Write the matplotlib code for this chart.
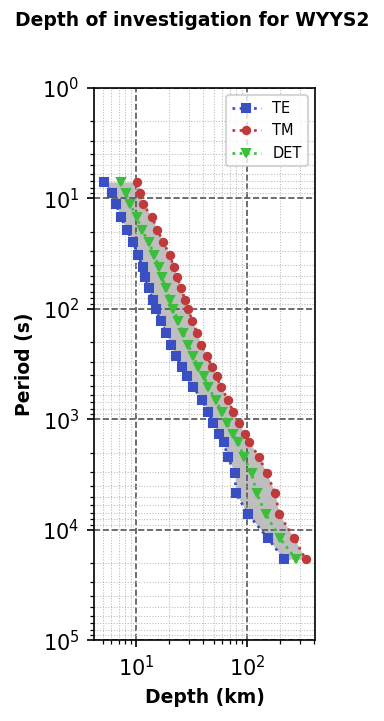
import numpy as np
import matplotlib
matplotlib.use('Agg')
import matplotlib.pyplot as plt

# ─── data ───────────────────────────────────────────────────────────────────
period_s = [7.10, 8.93, 11.25, 14.7, 19.3, 24.8, 32.6, 41.8, 51.5, 64.8,
            83.2, 100.4, 129, 165.6, 212.8, 267.7, 336.7, 406, 511, 670,
            860, 1082, 1361, 1609, 2200, 3071, 4660, 7220, 11920, 18470]

depth_te = [5.15, 6.04, 6.60, 7.28, 8.24, 9.40, 10.36, 11.56, 11.97, 13.09,
            14.13, 15.04, 16.69, 18.63, 20.66, 22.93, 25.8, 28.6, 32.8, 39.6,
            44.8, 49.7, 55.9, 62.0, 67.0, 78.0, 79.6, 102.1, 154.5, 215.4]

depth_tm = [10.27, 10.93, 11.49, 13.94, 15.56, 17.62, 20.12, 21.99, 23.55, 25.43,
            27.80, 29.59, 32.15, 35.66, 38.51, 43.87, 48.39, 53.35, 58.3, 67.9,
            75.3, 84.8, 96.0, 104.9, 129.1, 150.4, 179.8, 195.5, 266.7, 337.8]

depth_det = [7.28, 8.08, 8.83, 10.15, 11.25, 13.09, 14.53, 16.22, 17.26, 18.52,
             20.25, 21.68, 24.05, 26.68, 29.59, 32.82, 36.41, 40.99, 44.8, 52.6,
             59.2, 66.5, 75.3, 83.5, 94.0, 110.2, 122.2, 148.3, 198.2, 276.2]

TE_COLOR = '#3a4fc1'
TM_COLOR = '#c0393b'
DET_COLOR = '#3bbf3b'

fig = plt.figure(figsize=(2.56, 4.807), dpi=150)
ax = fig.add_axes([0.245, 0.112, 0.575, 0.766])

# shaded band between TE and TM
ax.fill_betweenx(period_s, depth_te, depth_tm, color='gray', alpha=0.5,
                 linewidth=0)

ax.plot(depth_te, period_s, ':', color=TE_COLOR, marker='s', markersize=3.5,
        linewidth=1.3, label='TE')
ax.plot(depth_tm, period_s, ':', color=TM_COLOR, marker='o', markersize=3.5,
        linewidth=1.3, label='TM')
ax.plot(depth_det, period_s, ':', color=DET_COLOR, marker='v', markersize=3.5,
        linewidth=1.3, label='DET')

ax.set_xscale('log')
ax.set_yscale('log')
ax.set_xlim(4.19, 410)
ax.set_ylim(1e5, 1)

ax.grid(which='major', color='#555555', linestyle='--', linewidth=0.8)
ax.grid(which='minor', color='#bbbbbb', linestyle=':', linewidth=0.5)
ax.tick_params(labelsize=10)

ax.set_xlabel('Depth (km)', fontsize=9, fontweight='bold')
ax.set_ylabel('Period (s)', fontsize=9, fontweight='bold')
fig.suptitle('Depth of investigation for WYYS2', fontsize=9, fontweight='bold',
             x=0.5, y=0.985)

ax.legend(loc='upper right', fontsize=7)

fig.savefig('out.png', dpi=150)
plt.close(fig)
